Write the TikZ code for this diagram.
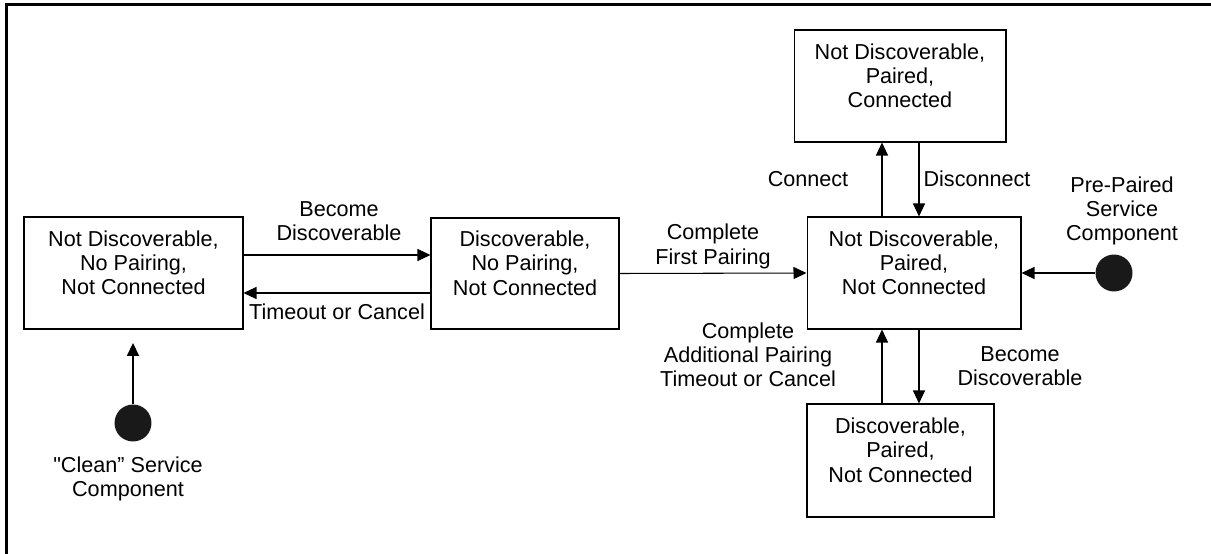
\documentclass[tikz,border=0pt]{standalone}
\usepackage{fontspec}
\setmainfont{Liberation Sans}
\usetikzlibrary{arrows.meta, positioning, calc}

\tikzset{
    state/.style={draw, line width=0.6pt, align=center, inner sep=0pt,
        font=\fontsize{12.3}{13.8}\selectfont},
    lbl/.style={align=center, inner sep=0pt, font=\fontsize{12.3}{13.8}\selectfont},
    arr/.style={line width=0.6pt, -{Triangle[length=0.26cm, width=0.24cm]}},
    dot/.style={circle, fill=black!90, minimum size=0.74cm, inner sep=0pt}
}

\begin{document}
\begin{tikzpicture}[x=0.02cm, y=-0.02cm]
    \useasboundingbox (0,0) rectangle (1211,554);

    % Frame
    \draw[line width=1.2pt] (6.5,554) -- (6.5,4.5) -- (1211,4.5);

    % States
    \node[state, minimum width=4.38cm, minimum height=2.24cm] (ndnp) at (133.5,273)
        {Not Discoverable,\\No Pairing,\\Not Connected\\[-2pt]\mbox{}};
    \node[state, minimum width=3.76cm, minimum height=2.22cm] (dnp) at (525,273.5)
        {Discoverable,\\No Pairing,\\Not Connected\\[-2pt]\mbox{}};
    \node[state, minimum width=4.28cm, minimum height=2.24cm] (ndpnc) at (914,273)
        {Not Discoverable,\\Paired,\\Not Connected\\[-2pt]\mbox{}};
    \node[state, minimum width=4.24cm, minimum height=2.24cm] (ndpc) at (900,86)
        {Not Discoverable,\\Paired,\\Connected\\[-2pt]\mbox{}};
    \node[state, minimum width=3.74cm, minimum height=2.26cm] (dpnc) at (900.5,460.5)
        {Discoverable,\\Paired,\\Not Connected\\[-2pt]\mbox{}};

    % Start points
    \node[dot] (clean) at (133,423) {};
    \node[dot] (prepaired) at (1114,273) {};

    % Lanes
    \coordinate (laneBD) at (0,255);
    \coordinate (laneTC) at (0,293);
    \coordinate (laneUp) at (882,0);
    \coordinate (laneDn) at (919,0);
    \coordinate (cleanEnd) at (133,343);

    % Transitions
    \draw[arr] (ndnp.east |- laneBD) -- (dnp.west |- laneBD);
    \draw[arr] (dnp.west |- laneTC) -- (ndnp.east |- laneTC);
    \draw[arr] (dnp.east) -- (ndpnc.west);
    \draw[arr] (ndpnc.north -| laneUp) -- (ndpc.south -| laneUp);
    \draw[arr] (ndpc.south -| laneDn) -- (ndpnc.north -| laneDn);
    \draw[arr] (dpnc.north -| laneUp) -- (ndpnc.south -| laneUp);
    \draw[arr] (ndpnc.south -| laneDn) -- (dpnc.north -| laneDn);
    \draw[arr] (prepaired) -- (prepaired -| ndpnc.east);
    \draw[arr, line width=1.2pt] (clean) -- (cleanEnd);

    % Labels
    \node[lbl] (lBecome) at (339,221) {Become\\Discoverable};
    \node[lbl] (lTimeout) at (337,312) {Timeout or Cancel};
    \node[lbl] (lFirst) at (713,246.5) {Complete\\First Pairing};
    \node[lbl] (lConnect) at (808,179) {Connect};
    \node[lbl] (lDisconnect) at (977,179) {Disconnect};
    \node[lbl] (lPre) at (1122,211) {Pre-Paired\\Service\\Component};
    \node[lbl] (lAdd) at (748,355) {Complete\\Additional Pairing\\Timeout or Cancel};
    \node[lbl] (lBecome2) at (1020,366) {Become\\Discoverable};
    \node[lbl] (lClean) at (128,479) {\textquotedbl Clean” Service\\Component};
\end{tikzpicture}
\end{document}
